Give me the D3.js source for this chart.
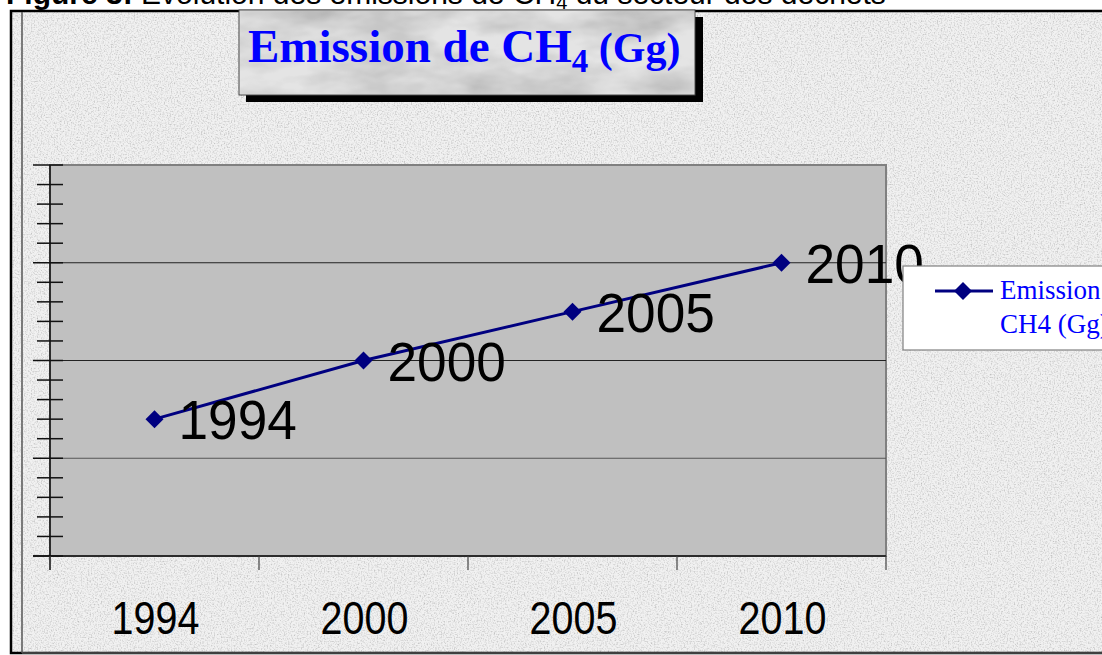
<!DOCTYPE html>
<html>
<head>
<meta charset="utf-8">
<script src="https://cdn.jsdelivr.net/npm/d3@7"></script>
<style>
  html, body { margin: 0; padding: 0; background: #fff; overflow: hidden; }
  svg { display: block; }
</style>
</head>
<body>
<div id="wrapper"></div>
<script>
// Data (y axis has no labels, values in Gg estimated on a 0-40 scale)
var years = ["1994", "2000", "2005", "2010"];
var emissions = [14, 20, 25, 30];
var yMax = 40;
var seriesName = ["Emission de", "CH4 (Gg)"];

var W = 1102, H = 655;
var plot = { left: 50, top: 165, right: 886, bottom: 556 };

var svg = d3.select("#wrapper")
  .append("svg")
  .attr("width", W)
  .attr("height", H);

// textures
var defs = svg.append("defs");
var grain = defs.append("filter").attr("id", "grain")
  .attr("x", 0).attr("y", 0).attr("width", "100%").attr("height", "100%");
grain.append("feTurbulence").attr("type", "fractalNoise")
  .attr("baseFrequency", "0.7").attr("numOctaves", 2).attr("seed", 3).attr("result", "n");
grain.append("feColorMatrix").attr("in", "n").attr("type", "matrix")
  .attr("values", "1.5 0 0 0 0.15  1.5 0 0 0 0.15  1.5 0 0 0 0.15  0 0 0 0 1");

var marble = defs.append("filter").attr("id", "marble")
  .attr("x", 0).attr("y", 0).attr("width", "100%").attr("height", "100%");
marble.append("feTurbulence").attr("type", "fractalNoise")
  .attr("baseFrequency", "0.012 0.03").attr("numOctaves", 4).attr("seed", 7).attr("result", "n");
marble.append("feColorMatrix").attr("in", "n").attr("type", "matrix")
  .attr("values", "0 0 0 0 0.45  0 0 0 0 0.45  0 0 0 0 0.45  0 0 0 -1.6 1.05").attr("result", "g");
marble.append("feComposite").attr("in", "g").attr("in2", "SourceGraphic").attr("operator", "in");

// page background and caption (cut at the top)
svg.append("rect").attr("width", W).attr("height", H).attr("fill", "#fff");
var cap = svg.append("text")
  .attr("x", 6).attr("y", 4)
  .style("font-family", "Liberation Sans, Arial, sans-serif")
  .style("font-size", "30px")
  .attr("fill", "#000");
cap.append("tspan").style("font-weight", "bold").text("Figure 3: ");
cap.append("tspan").text("Evolution des émissions de CH");
cap.append("tspan").attr("dy", 5).style("font-size", "20px").text("4");
cap.append("tspan").attr("dy", -5).text(" du secteur des déchets");

// chart frame with textured background
svg.append("rect").attr("x", 10).attr("y", 10).attr("width", W).attr("height", 643)
  .attr("fill", "#e4e4e4");
svg.append("rect").attr("x", 10).attr("y", 10).attr("width", W).attr("height", 643)
  .attr("fill", "#fff").attr("filter", "url(#grain)").attr("opacity", 0.5);
svg.append("rect").attr("x", 11).attr("y", 11).attr("width", W).attr("height", 642)
  .attr("fill", "none").attr("stroke", "#000").attr("stroke-width", 2.5);
svg.append("line").attr("x1", 22).attr("x2", 22).attr("y1", 12).attr("y2", 653)
  .attr("stroke", "#555").attr("stroke-width", 1.5);
svg.append("line").attr("x1", 22).attr("x2", W).attr("y1", 653).attr("y2", 653)
  .attr("stroke", "#555").attr("stroke-width", 1.5);

// scales
var x = d3.scaleBand()
  .domain(years)
  .range([plot.left, plot.right])
  .padding(0);

var y = d3.scaleLinear()
  .domain([0, yMax])
  .range([plot.bottom, plot.top]);

// plot area
svg.append("rect")
  .attr("x", plot.left).attr("y", plot.top)
  .attr("width", plot.right - plot.left).attr("height", plot.bottom - plot.top)
  .attr("fill", "#c0c0c0")
  .attr("stroke", "#808080").attr("stroke-width", 2);

// gridlines
svg.append("g")
  .selectAll("line")
  .data(y.ticks(4).filter(function (d) { return d > 0 && d < yMax; }))
  .enter()
  .append("line")
  .attr("x1", plot.left).attr("x2", plot.right)
  .attr("y1", function (d) { return y(d); })
  .attr("y2", function (d) { return y(d); })
  .attr("stroke", function (d, i) { return i == 0 ? "#555" : "#222"; })
  .attr("stroke-width", 1);

// y axis: line plus major / minor ticks crossing it
svg.append("line")
  .attr("x1", plot.left).attr("x2", plot.left)
  .attr("y1", plot.top).attr("y2", plot.bottom + 14)
  .attr("stroke", "#111").attr("stroke-width", 1.5);

svg.append("g")
  .selectAll("line")
  .data(y.ticks(20))
  .enter()
  .append("line")
  .attr("x1", function (d) { return d % 10 === 0 ? 33 : 37; })
  .attr("x2", 63)
  .attr("y1", function (d) { return y(d); })
  .attr("y2", function (d) { return y(d); })
  .attr("stroke", "#111").attr("stroke-width", 1.5);

// x axis: ticks on the band edges
svg.append("line")
  .attr("x1", 33).attr("x2", plot.right)
  .attr("y1", plot.bottom).attr("y2", plot.bottom)
  .attr("stroke", "#111").attr("stroke-width", 1.5);

var edges = years.map(function (d) { return x(d); }).concat([plot.right]);
svg.append("g")
  .selectAll("line")
  .data(edges)
  .enter()
  .append("line")
  .attr("x1", function (d) { return d; }).attr("x2", function (d) { return d; })
  .attr("y1", plot.bottom).attr("y2", plot.bottom + 14)
  .attr("stroke", "#444").attr("stroke-width", 1.2);

svg.append("g")
  .selectAll("text")
  .data(years)
  .enter()
  .append("text")
  .attr("transform", function (d) {
    return "translate(" + (x(d) + x.bandwidth() / 2 + 1) + ",634) scale(0.84,1)";
  })
  .attr("text-anchor", "middle")
  .style("font-family", "Liberation Sans, Arial, sans-serif")
  .style("font-size", "47px")
  .attr("fill", "#000")
  .text(function (d) { return d; });

// series
var pts = years.map(function (d, i) { return { year: d, value: emissions[i] }; });
var cx = function (d) { return x(d.year) + x.bandwidth() / 2; };

svg.append("path")
  .datum(pts)
  .attr("d", d3.line().x(cx).y(function (d) { return y(d.value); }))
  .attr("fill", "none")
  .attr("stroke", "#000080")
  .attr("stroke-width", 3);

var diamond = "M0,-9L9,0L0,9L-9,0Z";
svg.append("g")
  .selectAll("path")
  .data(pts)
  .enter()
  .append("path")
  .attr("transform", function (d) { return "translate(" + cx(d) + "," + y(d.value) + ")"; })
  .attr("d", diamond)
  .attr("fill", "#000080");

// data labels (category names)
svg.append("g")
  .selectAll("text")
  .data(pts)
  .enter()
  .append("text")
  .attr("transform", function (d) {
    return "translate(" + (cx(d) + 24) + "," + (y(d.value) + 20) + ") scale(0.95,1)";
  })
  .style("font-family", "Liberation Sans, Arial, sans-serif")
  .style("font-size", "56px")
  .attr("fill", "#000")
  .text(function (d) { return d.year; });

// title box
svg.append("rect").attr("x", 246).attr("y", 17).attr("width", 457).attr("height", 85)
  .attr("fill", "#000");
svg.append("rect").attr("x", 239).attr("y", 10).attr("width", 456).attr("height", 85)
  .attr("fill", "#e4e4e4").attr("stroke", "#444").attr("stroke-width", 1);
svg.append("rect").attr("x", 240).attr("y", 11).attr("width", 454).attr("height", 83)
  .attr("fill", "#fff").attr("filter", "url(#marble)");

var title = svg.append("text")
  .attr("x", 248).attr("y", 62)
  .style("font-family", "Liberation Serif, Times New Roman, serif")
  .style("font-weight", "bold")
  .style("font-size", "47px")
  .attr("fill", "#0000ff");
title.append("tspan").text("Emission de CH");
title.append("tspan").attr("dy", 10).style("font-size", "33px").text("4");
title.append("tspan").attr("dy", -10).style("font-size", "42px").text(" (Gg)");

// legend
var legend = svg.append("g").attr("transform", "translate(903,266)");
legend.append("rect")
  .attr("width", 260).attr("height", 84)
  .attr("fill", "#fff").attr("stroke", "#808080").attr("stroke-width", 1.2);
legend.append("line")
  .attr("x1", 32).attr("x2", 90).attr("y1", 25).attr("y2", 25)
  .attr("stroke", "#000080").attr("stroke-width", 3);
legend.append("path")
  .attr("transform", "translate(60,25)")
  .attr("d", diamond)
  .attr("fill", "#000080");
legend.selectAll("text.lbl")
  .data(seriesName)
  .enter()
  .append("text")
  .attr("class", "lbl")
  .attr("x", 97)
  .attr("y", function (d, i) { return 33 + i * 34; })
  .style("font-family", "Liberation Serif, Times New Roman, serif")
  .style("font-size", "27px")
  .attr("fill", "#0000ff")
  .text(function (d) { return d; });
</script>
</body>
</html>
